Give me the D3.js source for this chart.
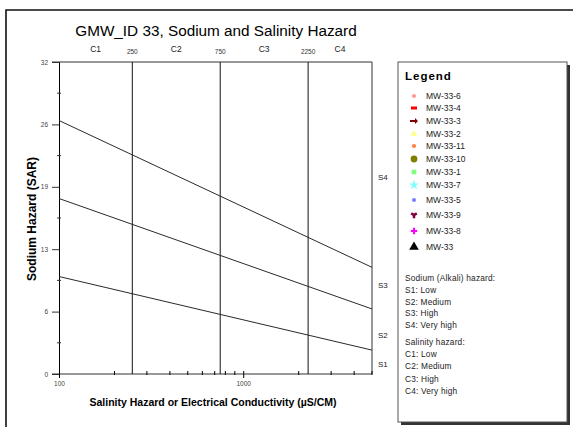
<!DOCTYPE html>
<html><head><meta charset="utf-8">
<script src="https://cdn.jsdelivr.net/npm/d3@7/dist/d3.min.js"></script>
<style>body{margin:0;background:#fff}svg{display:block;font-family:"Liberation Sans",Arial,sans-serif}</style>
</head><body><svg id="c" width="573" height="427"></svg>
<script>
// ---- data ----
const title = "GMW_ID 33, Sodium and Salinity Hazard";
const xTitle = "Salinity Hazard or Electrical Conductivity (\u00b5S/CM)";
const yTitle = "Sodium Hazard (SAR)";
const xDomain = [100, 5000];
const yDomain = [0, 32];
const xMajorTicks = [100, 1000];
const xMajorLabels = ["100", "1000"];
const xMinorTicks = [200, 300, 400, 500, 600, 700, 800, 900, 2000, 3000, 4000, 5000];
const yTickValues = [0, 6.4, 12.8, 19.2, 25.6, 32];
const yTickLabels = ["0", "6", "13", "19", "26", "32"];
const yMinorTicks = [3.2, 9.6, 16, 22.4, 28.8];
const ecBounds = [250, 750, 2250];
const ecBoundLabels = ["250", "750", "2250"];
const cClasses = ["C1", "C2", "C3", "C4"];
const cClassEC = [158, 433, 1299, 3354];
const lineEC = [100, 5000];
const sLine1 = [10.0, 2.45];
const sLine2 = [18.0, 6.67];
const sLine3 = [26.0, 10.94];
const sClasses = ["S1", "S2", "S3", "S4"];
const sClassSAR = [1.03, 3.93, 9.14, 20.2];
const legendNames = ["MW-33-6","MW-33-4","MW-33-3","MW-33-2","MW-33-11","MW-33-10","MW-33-1","MW-33-7","MW-33-5","MW-33-9","MW-33-8","MW-33"];
const legendColors = ["#ff9a9a","#ff0000","#800000","#ffff80","#ff8040","#808000","#80ff80","#80ffff","#8080ff","#800040","#ff00ff","#000000"];
const legendShapes = ["circle","rect","arrow","triangle","circle","circleL","square","star","circle","tri3","cross","triangleL"];
const sodiumNotes = ["Sodium (Alkali) hazard:","S1: Low","S2: Medium","S3: High","S4: Very high"];
const salinityNotes = ["Salinity hazard:","C1: Low","C2: Medium","C3: High","C4: Very high"];

// ---- drawing ----
const svg = d3.select("#c");
const plot = {l: 59, r: 372, t: 62, b: 374};
const x = d3.scaleLog().domain(xDomain).range([plot.l, plot.r]);
const y = d3.scaleLinear().domain(yDomain).range([plot.b, plot.t]);

// outer frame
svg.append("path").attr("d", `M6,430 L6,10 L580,10`).attr("fill","none").attr("stroke","#111").attr("stroke-width",1.6);

// title
svg.append("text").attr("x", 216).attr("y", 36).attr("text-anchor","middle")
  .attr("font-size", 15.3).attr("fill","#000").text(title);

// plot box: top & right borders
svg.append("line").attr("x1", plot.l - 7).attr("x2", plot.r).attr("y1", y(32)).attr("y2", y(32)).attr("stroke","#333");
svg.append("line").attr("x1", plot.r).attr("x2", plot.r).attr("y1", y(32)).attr("y2", y(0)).attr("stroke","#333");

// y axis
const yAxis = d3.axisLeft(y).tickValues(yTickValues).tickFormat((d,i)=>yTickLabels[i]).tickSize(7).tickPadding(4);
const gy = svg.append("g").attr("transform", `translate(${plot.l},0)`).call(yAxis);
gy.select(".domain").attr("stroke","#000");
gy.selectAll(".tick line").attr("stroke","#333");
gy.selectAll("text").attr("font-size", 6.5).attr("fill","#444").attr("font-family","Liberation Sans, Arial");
const gym = svg.append("g").attr("transform", `translate(${plot.l},0)`);
gym.selectAll("line").data(yMinorTicks).join("line")
  .attr("x1", -2).attr("x2", 2).attr("y1", d=>y(d)).attr("y2", d=>y(d)).attr("stroke","#333");

// x axis
svg.append("line").attr("x1", plot.l - 7).attr("x2", plot.r).attr("y1", plot.b).attr("y2", plot.b).attr("stroke","#333");
const xAxis = d3.axisBottom(x).tickValues(xMajorTicks).tickFormat((d,i)=>xMajorLabels[i]).tickSize(4).tickPadding(3);
const gx = svg.append("g").attr("transform", `translate(0,${plot.b})`).call(xAxis);
gx.select(".domain").remove();
gx.selectAll(".tick line").attr("stroke","#000").attr("y1",-3);
gx.selectAll("text").attr("font-size", 6.5).attr("fill","#444");
const gxm = svg.append("g").attr("transform", `translate(0,${plot.b})`);
gxm.selectAll("line").data(xMinorTicks).join("line")
  .attr("x1", d=>x(d)).attr("x2", d=>x(d)).attr("y1", -3).attr("y2", 1).attr("stroke","#000");

// EC boundaries
svg.append("g").selectAll("line").data(ecBounds).join("line")
  .attr("x1", d=>x(d)).attr("x2", d=>x(d)).attr("y1", y(32)).attr("y2", y(0))
  .attr("stroke","#111").attr("stroke-width",1);
svg.append("g").selectAll("text").data(ecBounds).join("text")
  .attr("x", d=>x(d)).attr("y", 54).attr("text-anchor","middle").attr("font-size",6.5).attr("fill","#333")
  .text((d,i)=>ecBoundLabels[i]);
svg.append("g").selectAll("text").data(cClassEC).join("text")
  .attr("x", d=>x(d)).attr("y", 52).attr("text-anchor","middle").attr("font-size",8.5).attr("fill","#222")
  .text((d,i)=>cClasses[i]);

// SAR boundary lines
const line = d3.line().x(d=>x(d[0])).y(d=>y(d[1]));
[sLine1, sLine2, sLine3].forEach(s => {
  svg.append("path").datum(lineEC.map((e,i)=>[e, s[i]])).attr("d", line)
    .attr("fill","none").attr("stroke","#2a2a2a").attr("stroke-width",1);
});
svg.append("g").selectAll("text").data(sClassSAR).join("text")
  .attr("x", 378).attr("y", d=>y(d)).attr("dy","0.35em").attr("font-size",8).attr("fill","#222")
  .text((d,i)=>sClasses[i]);

// axis titles
svg.append("text").attr("transform","translate(36,219) rotate(-90)").attr("text-anchor","middle")
  .attr("font-size", 12).attr("font-weight","bold").text(yTitle);
svg.append("text").attr("x", 213).attr("y", 406).attr("text-anchor","middle")
  .attr("font-size", 10.5).attr("font-weight","bold").text(xTitle);

// legend box
const lg = {l: 398, t: 62, r: 567, b: 422};
svg.append("rect").attr("x", lg.l+3).attr("y", lg.t+3).attr("width", lg.r-lg.l).attr("height", lg.b-lg.t).attr("fill","#333");
svg.append("rect").attr("x", lg.l).attr("y", lg.t).attr("width", lg.r-lg.l).attr("height", lg.b-lg.t)
  .attr("fill","#fff").attr("stroke","#555").attr("stroke-width",1);
svg.append("text").attr("x", 405).attr("y", 80).attr("font-size", 11.5).attr("font-weight","bold")
  .attr("letter-spacing", 1).text("Legend");

const itemY = [96,108,121,134,146,159,172,185,200,215,231,247];
const symMap = {
  circle: [d3.symbolCircle, 14], circleL: [d3.symbolCircle, 36], rect: null, square: [d3.symbolSquare, 22],
  triangle: [d3.symbolTriangle, 18], triangleL: [d3.symbolTriangle, 40], star: [d3.symbolStar, 30],
  cross: [d3.symbolCross, 22], tri3: [d3.symbolWye, 22], arrow: null
};
const items = svg.append("g").selectAll("g").data(legendNames).join("g")
  .attr("transform", (d,i)=>`translate(414,${itemY[i]})`);
items.each(function(d,i){
  const g = d3.select(this), shp = legendShapes[i], col = legendColors[i];
  if (shp === "rect") {
    g.append("rect").attr("x",-3).attr("y",-1.5).attr("width",6).attr("height",3).attr("fill",col);
  } else if (shp === "arrow") {
    g.append("path").attr("d","M-4,-1 L1,-1 L1,-3 L4,0 L1,3 L1,1 L-4,1 Z").attr("fill",col);
  } else {
    const s = symMap[shp];
    g.append("path").attr("d", d3.symbol().type(s[0]).size(s[1])()).attr("fill", col);
  }
  g.append("text").attr("x", 12).attr("dy","0.35em").attr("font-size", 8.5).attr("fill","#222").text(d);
});

svg.append("g").selectAll("text").data(sodiumNotes).join("text")
  .attr("x", 405).attr("y", (d,i)=>278 + i*11.8).attr("dy","0.35em").attr("font-size",8.3)
  .attr("letter-spacing",0.2).attr("fill","#222").text(d=>d);
svg.append("g").selectAll("text").data(salinityNotes).join("text")
  .attr("x", 405).attr("y", (d,i)=>342 + i*12.2).attr("dy","0.35em").attr("font-size",8.3)
  .attr("letter-spacing",0.2).attr("fill","#222").text(d=>d);
</script></body></html>
